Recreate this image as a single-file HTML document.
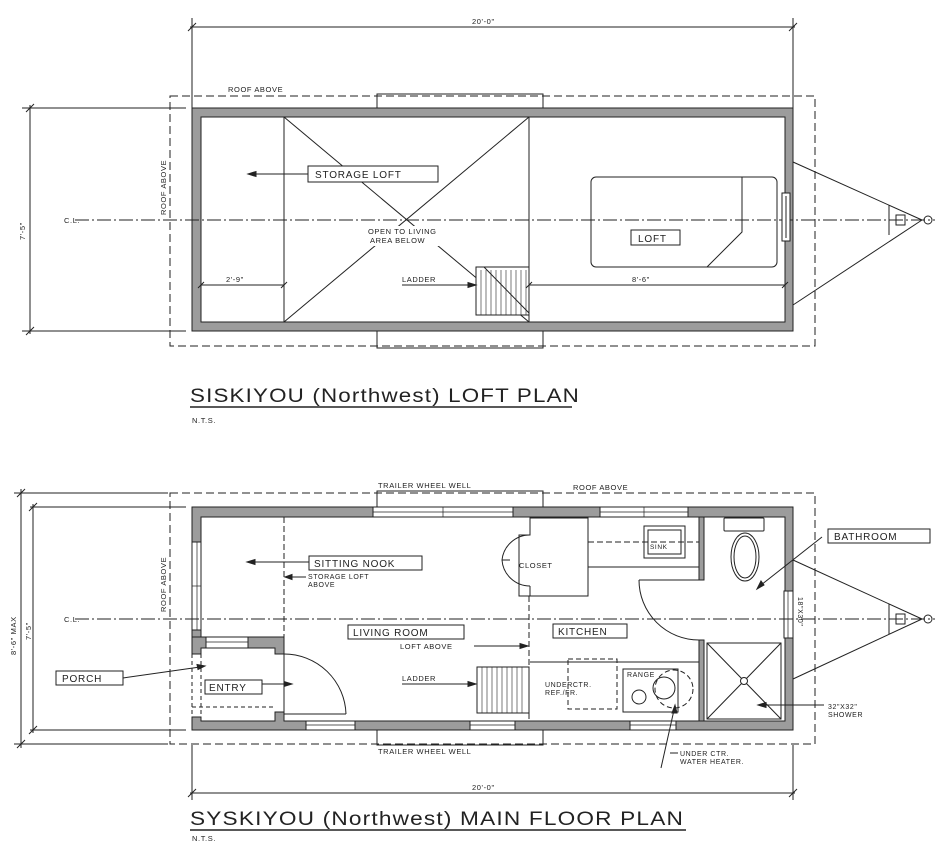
<!DOCTYPE html>
<html><head><meta charset="utf-8"><style>
html,body{margin:0;padding:0;background:#fff;}
svg{display:block;}
text{font-family:"Liberation Sans",sans-serif;fill:#222;}
.s{font-size:7.5px;letter-spacing:0.6px;}
.m{font-size:10px;letter-spacing:0.8px;}
.t{font-size:20px;letter-spacing:1px;font-weight:normal;}
</style></head><body>
<svg width="950" height="858" viewBox="0 0 950 858" xmlns="http://www.w3.org/2000/svg" stroke="#222" fill="none" stroke-width="1">
<!-- ================= LOFT PLAN ================= -->
<line x1="192" y1="18" x2="192" y2="108"/><line x1="793" y1="18" x2="793" y2="108"/>
<line x1="190" y1="27" x2="795" y2="27"/>
<line x1="188" y1="31" x2="196" y2="23"/><line x1="789" y1="31" x2="797" y2="23"/>
<text class="s" x="472" y="24" stroke="none">20'-0"</text>
<rect x="170" y="96" width="645" height="250" stroke-dasharray="8,4"/>
<text class="s" x="228" y="92" stroke="none">ROOF ABOVE</text>
<text class="s" transform="translate(166,215) rotate(-90)" stroke="none">ROOF ABOVE</text>
<rect x="377" y="94" width="166" height="14"/>
<rect x="377" y="331" width="166" height="17"/>
<path d="M192,108H793V331H192Z M201,117V322H785V117Z" fill="#9c9c9c" fill-rule="evenodd"/>
<line x1="22" y1="108" x2="186" y2="108"/><line x1="22" y1="331" x2="186" y2="331"/>
<line x1="30" y1="105" x2="30" y2="334"/>
<line x1="26" y1="112" x2="34" y2="104"/><line x1="26" y1="335" x2="34" y2="327"/>
<text class="s" transform="translate(25,240) rotate(-90)" stroke="none">7'-5"</text>
<line x1="75" y1="220" x2="935" y2="220" stroke-dasharray="14,3,2,3"/>
<text class="s" x="64" y="223" stroke="none">C.L.</text>
<line x1="284" y1="117" x2="284" y2="322"/><line x1="529" y1="117" x2="529" y2="322"/>
<line x1="284" y1="117" x2="529" y2="322"/><line x1="529" y1="117" x2="284" y2="322"/>
<rect x="308" y="166" width="130" height="16" fill="#fff"/>
<text class="m" x="315" y="178" stroke="none">STORAGE LOFT</text>
<line x1="308" y1="174" x2="252" y2="174"/><path d="M248,174l8,-2.5v5z" fill="#222"/>
<rect x="368" y="226" width="88" height="20" fill="#fff" stroke="none"/>
<text class="s" x="368" y="234" stroke="none">OPEN TO LIVING</text>
<text class="s" x="370" y="243" stroke="none">AREA BELOW</text>
<rect x="476" y="267" width="53" height="48" fill="#fff"/>
<g stroke-width="0.6">
<line x1="481" y1="270" x2="481" y2="315"/><line x1="486" y1="270" x2="486" y2="315"/><line x1="491" y1="270" x2="491" y2="315"/><line x1="496" y1="270" x2="496" y2="315"/><line x1="501" y1="270" x2="501" y2="315"/><line x1="506" y1="270" x2="506" y2="315"/><line x1="511" y1="270" x2="511" y2="315"/><line x1="516" y1="270" x2="516" y2="315"/><line x1="521" y1="270" x2="521" y2="315"/><line x1="526" y1="270" x2="526" y2="315"/>
</g>
<line x1="484" y1="267" x2="529" y2="313"/>
<text class="s" x="402" y="282" stroke="none">LADDER</text>
<line x1="402" y1="285" x2="470" y2="285"/><path d="M476,285l-8,-2.5v5z" fill="#222"/>
<line x1="201" y1="285" x2="284" y2="285"/><line x1="529" y1="285" x2="785" y2="285"/>
<line x1="198" y1="288" x2="204" y2="282"/><line x1="281" y1="288" x2="287" y2="282"/>
<line x1="526" y1="288" x2="532" y2="282"/><line x1="782" y1="288" x2="788" y2="282"/>
<text class="s" x="226" y="282" stroke="none">2'-9"</text>
<text class="s" x="632" y="282" stroke="none">8'-6"</text>
<rect x="591" y="177" width="186" height="90" rx="5"/>
<polyline points="742,177 742,232 707,267"/>
<rect x="631" y="230" width="49" height="15" fill="#fff"/>
<text class="m" x="638" y="242" stroke="none">LOFT</text>
<rect x="782" y="193" width="8" height="48" fill="#fff"/>
<line x1="786" y1="196" x2="786" y2="238"/>
<line x1="793" y1="162" x2="922" y2="220"/><line x1="793" y1="305" x2="922" y2="220"/>
<line x1="889" y1="205" x2="889" y2="235"/>
<rect x="896" y="215" width="9" height="10"/>
<circle cx="928" cy="220" r="4"/>
<text class="t" x="190" y="402" stroke="none" style="font-size:19px" textLength="390" lengthAdjust="spacingAndGlyphs">SISKIYOU (Northwest) LOFT PLAN</text>
<line x1="190" y1="407" x2="572" y2="407" stroke-width="1.5"/>
<text class="s" x="192" y="423" stroke="none">N.T.S.</text>

<!-- ================= MAIN FLOOR ================= -->
<text class="s" x="378" y="488" stroke="none">TRAILER WHEEL WELL</text>
<text class="s" x="573" y="490" stroke="none">ROOF ABOVE</text>
<rect x="170" y="493" width="645" height="251" stroke-dasharray="8,4"/>
<rect x="377" y="491" width="166" height="17"/>
<rect x="377" y="730" width="166" height="15"/>
<text class="s" x="378" y="754" stroke="none">TRAILER WHEEL WELL</text>
<text class="s" transform="translate(166,612) rotate(-90)" stroke="none">ROOF ABOVE</text>
<line x1="14" y1="493" x2="168" y2="493"/><line x1="14" y1="744" x2="168" y2="744"/>
<line x1="30" y1="507" x2="186" y2="507"/><line x1="30" y1="730" x2="186" y2="730"/>
<line x1="21" y1="489" x2="21" y2="748"/><line x1="33" y1="504" x2="33" y2="733"/>
<line x1="17" y1="497" x2="25" y2="489"/><line x1="17" y1="748" x2="25" y2="740"/>
<line x1="29" y1="511" x2="37" y2="503"/><line x1="29" y1="734" x2="37" y2="726"/>
<text class="s" transform="translate(16,655) rotate(-90)" stroke="none">8'-6" MAX</text>
<text class="s" transform="translate(31,640) rotate(-90)" stroke="none">7'-5"</text>
<path d="M192,507H793V730H192V717H201V721H275V712H284V721H785V517H201V637H192Z" fill="#9c9c9c"/>
<path d="M192,637H284V654H275V648H201V654H192Z" fill="#9c9c9c"/>
<line x1="192" y1="654" x2="192" y2="717" stroke-dasharray="4,3"/>
<line x1="201" y1="654" x2="201" y2="721" stroke-dasharray="4,3"/>
<line x1="192" y1="707" x2="275" y2="707" stroke-dasharray="4,3"/>
<g fill="#fff">
<rect x="373" y="507" width="140" height="10"/><rect x="600" y="507" width="88" height="10"/>
<rect x="306" y="721" width="49" height="9"/><rect x="470" y="721" width="45" height="9"/><rect x="630" y="721" width="46" height="9"/>
<rect x="206" y="637" width="42" height="11"/>
<rect x="192" y="542" width="9" height="88"/>
<rect x="784" y="591" width="9" height="47"/>
</g>
<g stroke-width="0.7">
<line x1="373" y1="512" x2="513" y2="512"/><line x1="443" y1="507" x2="443" y2="517"/>
<line x1="600" y1="512" x2="688" y2="512"/><line x1="644" y1="507" x2="644" y2="517"/>
<line x1="306" y1="725" x2="355" y2="725"/><line x1="470" y1="725" x2="515" y2="725"/><line x1="630" y1="725" x2="676" y2="725"/>
<line x1="206" y1="642" x2="248" y2="642"/>
<line x1="197" y1="542" x2="197" y2="630"/><line x1="192" y1="586" x2="201" y2="586"/>
<line x1="788" y1="591" x2="788" y2="638"/>
</g>
<text class="s" transform="translate(798,597) rotate(90)" stroke="none" style="font-size:7px">18"X30"</text>
<line x1="75" y1="619" x2="935" y2="619" stroke-dasharray="14,3,2,3"/>
<text class="s" x="64" y="622" stroke="none">C.L.</text>
<line x1="284" y1="517" x2="284" y2="637" stroke-dasharray="6,3"/>
<line x1="529" y1="596" x2="529" y2="721" stroke-dasharray="6,3"/>
<line x1="284" y1="654" x2="284" y2="712"/>
<path d="M284,654 A62,62 0 0,1 346,714"/>
<line x1="284" y1="714" x2="346" y2="714"/>
<path d="M530,518V535H519V596H588V518Z"/>
<line x1="530" y1="586" x2="530" y2="596"/>
<path d="M530,535 A28,28 0 0,0 502,560 A28,28 0 0,0 530,586"/>
<path d="M502,560H510"/>
<text class="s" x="519" y="568" stroke="none">CLOSET</text>
<path d="M588,517V567H699"/>
<line x1="588" y1="542" x2="699" y2="542" stroke-dasharray="6,3"/>
<rect x="644" y="526" width="41" height="32"/><rect x="648" y="530" width="33" height="24"/>
<text class="s" x="650" y="549" stroke="none" style="font-size:6.5px">SINK</text>
<path d="M699,517H704V580H699Z" fill="#9c9c9c"/>
<line x1="639" y1="580" x2="699" y2="580"/>
<path d="M639,580 A60,60 0 0,0 699,640"/>
<path d="M699,640H704V721H699Z" fill="#9c9c9c"/>
<rect x="724" y="518" width="40" height="13" rx="1"/>
<ellipse cx="745" cy="557" rx="14" ry="24"/><ellipse cx="745" cy="557" rx="11" ry="21"/>
<rect x="707" y="643" width="74" height="76"/>
<line x1="707" y1="643" x2="781" y2="719"/><line x1="781" y1="643" x2="707" y2="719"/>
<circle cx="744" cy="681" r="3.5" fill="#fff"/>
<line x1="530" y1="662" x2="699" y2="662"/>
<rect x="568" y="659" width="49" height="50" stroke-dasharray="5,3"/>
<text class="s" x="545" y="687" stroke="none" style="font-size:7px">UNDERCTR.</text>
<text class="s" x="545" y="695" stroke="none" style="font-size:7px">REF./FR.</text>
<rect x="623" y="669" width="55" height="43"/>
<text class="s" x="627" y="677" stroke="none" style="font-size:7px">RANGE</text>
<circle cx="639" cy="697" r="7"/><circle cx="664" cy="688" r="11"/>
<circle cx="674" cy="689" r="19" stroke-dasharray="5,3"/>
<rect x="477" y="667" width="52" height="46" fill="#fff"/>
<g stroke-width="0.6">
<line x1="482" y1="667" x2="482" y2="713"/><line x1="487" y1="667" x2="487" y2="713"/><line x1="492" y1="667" x2="492" y2="713"/><line x1="497" y1="667" x2="497" y2="713"/><line x1="502" y1="667" x2="502" y2="713"/><line x1="507" y1="667" x2="507" y2="713"/><line x1="512" y1="667" x2="512" y2="713"/><line x1="517" y1="667" x2="517" y2="713"/><line x1="522" y1="667" x2="522" y2="713"/>
</g>
<text class="s" x="402" y="681" stroke="none">LADDER</text>
<line x1="402" y1="684" x2="470" y2="684"/><path d="M476,684l-8,-2.5v5z" fill="#222"/>
<rect x="309" y="556" width="113" height="14" fill="#fff"/>
<text class="m" x="314" y="567" stroke="none">SITTING NOOK</text>
<line x1="309" y1="562" x2="252" y2="562"/><path d="M247,562l8,-2.5v5z" fill="#222"/>
<text class="s" x="308" y="579" stroke="none" style="font-size:7px">STORAGE LOFT</text>
<text class="s" x="308" y="587" stroke="none" style="font-size:7px">ABOVE</text>
<line x1="306" y1="577" x2="290" y2="577"/><path d="M285,577l7,-2.5v5z" fill="#222"/>
<rect x="348" y="625" width="116" height="14" fill="#fff"/>
<text class="m" x="353" y="636" stroke="none">LIVING ROOM</text>
<text class="s" x="400" y="649" stroke="none">LOFT ABOVE</text>
<line x1="474" y1="646" x2="522" y2="646"/><path d="M528,646l-8,-2.5v5z" fill="#222"/>
<rect x="553" y="624" width="74" height="14" fill="#fff"/>
<text class="m" x="558" y="635" stroke="none">KITCHEN</text>
<rect x="56" y="671" width="67" height="14" fill="#fff"/>
<text class="m" x="62" y="682" stroke="none">PORCH</text>
<line x1="123" y1="678" x2="200" y2="667"/><path d="M205,666l-8,-1.5l1,5z" fill="#222"/>
<rect x="205" y="680" width="57" height="14" fill="#fff"/>
<text class="m" x="209" y="691" stroke="none">ENTRY</text>
<line x1="262" y1="684" x2="286" y2="684"/><path d="M292,684l-8,-2.5v5z" fill="#222"/>
<rect x="828" y="529" width="102" height="14" fill="#fff"/>
<text class="m" x="834" y="540" stroke="none">BATHROOM</text>
<line x1="822" y1="537" x2="761" y2="585"/><path d="M757,589l4,-8l3,4z" fill="#222"/>
<text class="s" x="828" y="709" stroke="none" style="font-size:7px">32"X32"</text>
<text class="s" x="828" y="717" stroke="none" style="font-size:7px">SHOWER</text>
<line x1="824" y1="705" x2="764" y2="705"/><path d="M758,705l8,-2.5v5z" fill="#222"/>
<text class="s" x="680" y="756" stroke="none" style="font-size:7px">UNDER CTR.</text>
<text class="s" x="680" y="764" stroke="none" style="font-size:7px">WATER HEATER.</text>
<line x1="678" y1="753" x2="670" y2="753"/>
<line x1="661" y1="768" x2="674" y2="710"/><path d="M675,705l-3,8l5,0z" fill="#222"/>
<line x1="793" y1="560" x2="922" y2="619"/><line x1="793" y1="679" x2="922" y2="619"/>
<line x1="889" y1="604" x2="889" y2="634"/>
<rect x="896" y="614" width="9" height="10"/>
<circle cx="928" cy="619" r="4"/>
<line x1="192" y1="745" x2="192" y2="800"/><line x1="793" y1="745" x2="793" y2="800"/>
<line x1="190" y1="793" x2="795" y2="793"/>
<line x1="188" y1="797" x2="196" y2="789"/><line x1="789" y1="797" x2="797" y2="789"/>
<text class="s" x="472" y="790" stroke="none">20'-0"</text>
<text class="t" x="190" y="825" stroke="none" style="font-size:19px" textLength="494" lengthAdjust="spacingAndGlyphs">SYSKIYOU (Northwest) MAIN FLOOR PLAN</text>
<line x1="190" y1="830" x2="686" y2="830" stroke-width="1.5"/>
<text class="s" x="192" y="841" stroke="none">N.T.S.</text>
</svg>
</body></html>
